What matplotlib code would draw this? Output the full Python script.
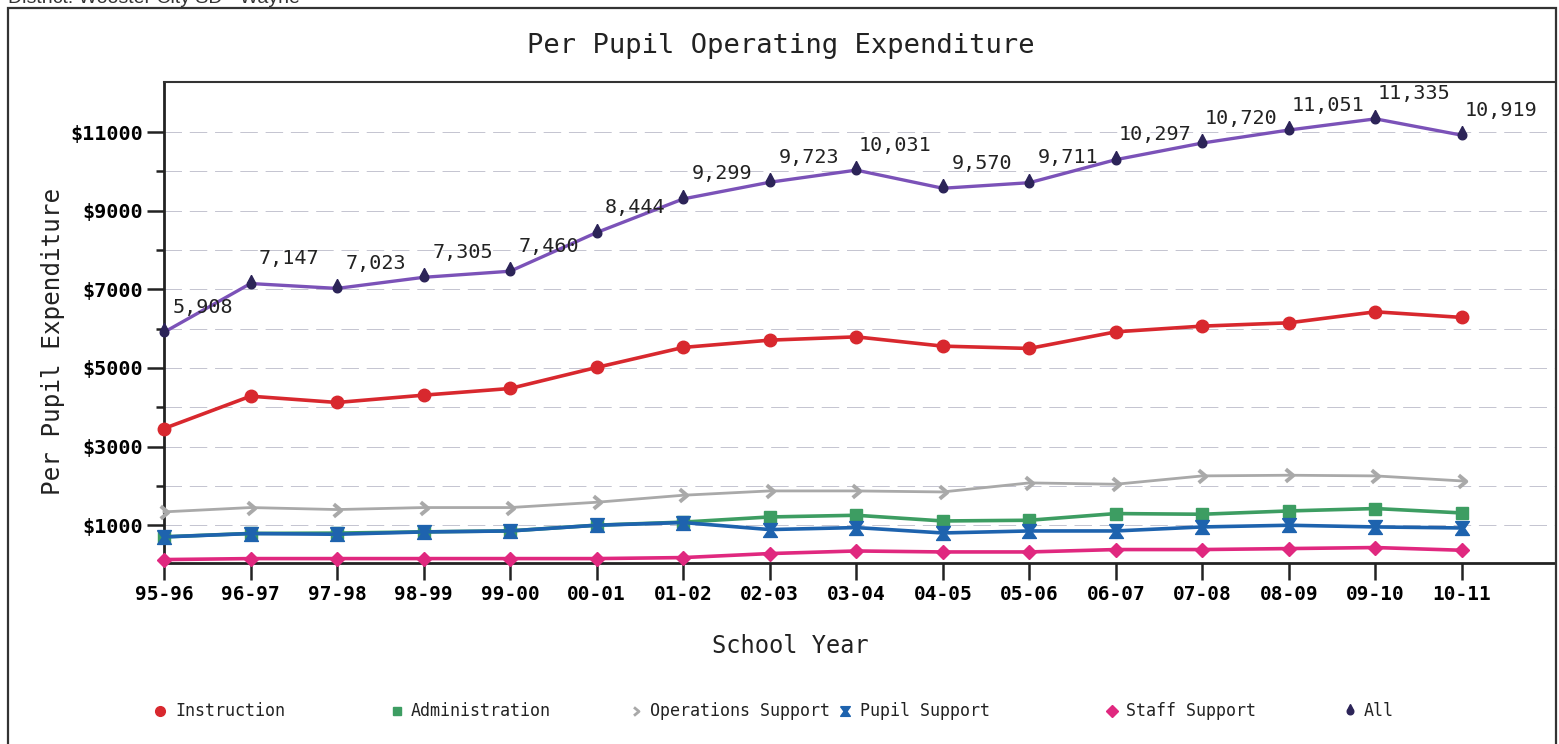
import matplotlib
matplotlib.use("Agg")
import matplotlib.pyplot as plt
from matplotlib.path import Path
from matplotlib.lines import Line2D
from matplotlib.patches import Rectangle
import numpy as np

years = ["95-96", "96-97", "97-98", "98-99", "99-00", "00-01", "01-02", "02-03",
         "03-04", "04-05", "05-06", "06-07", "07-08", "08-09", "09-10", "10-11"]

instruction = [3460, 4282, 4122, 4308, 4478, 5013, 5522, 5707,
               5791, 5555, 5496, 5919, 6064, 6148, 6428, 6285]
administration = [705, 792, 800, 832, 856, 1002, 1080, 1211,
                  1254, 1109, 1127, 1297, 1280, 1364, 1425, 1313]
operations = [1340, 1450, 1399, 1450, 1450, 1585, 1763, 1873,
              1873, 1847, 2077, 2043, 2255, 2272, 2255, 2127]
pupil = [703, 789, 771, 830, 855, 1000, 1069, 890,
         941, 804, 855, 855, 957, 1000, 957, 931]
staff = [127, 152, 152, 152, 152, 152, 178, 280,
         346, 321, 321, 382, 382, 407, 433, 364]
all_exp = [5908, 7147, 7023, 7305, 7460, 8444, 9299, 9723,
           10031, 9570, 9711, 10297, 10720, 11051, 11335, 10919]

mono = "DejaVu Sans Mono"

# custom marker shapes (teardrop, hourglass "X", chevron)
drop = Path([(0, 2.1)] + [(np.cos(a), np.sin(a)) for a in np.linspace(np.radians(40), np.radians(-220), 30)] + [(0, 2.1)])
hourglass = Path([(-1, 1), (1, 1), (0.3, 0), (1, -1), (-1, -1), (-0.3, 0), (-1, 1)])
chevron = Path([(-0.6, 1), (0.6, 0), (-0.6, -1)], [Path.MOVETO, Path.LINETO, Path.LINETO])

c_instr = "#d8282e"
c_admin = "#3d9d62"
c_ops = "#a9a9a9"
c_pupil = "#1e63ae"
c_staff = "#e0287f"
c_all_line = "#7b52b8"
c_all_mark = "#2c2458"

W, H = 1559, 744
fig = plt.figure(figsize=(W / 100, H / 100), dpi=100)
ax = fig.add_axes([164 / W, 1 - 563 / H, (1555 - 164) / W, (563 - 82) / H])

x = np.arange(len(years))

ax.plot(x, operations, color=c_ops, lw=2.0, marker=chevron, ms=9, mfc="none",
        mec=c_ops, mew=2.8, zorder=3, clip_on=False)
ax.plot(x, administration, color=c_admin, lw=2.6, marker="s", ms=8, zorder=4, clip_on=False)
ax.plot(x, pupil, color=c_pupil, lw=2.6, marker=hourglass, ms=10, zorder=5, clip_on=False)
ax.plot(x, staff, color=c_staff, lw=2.6, marker="D", ms=7, zorder=4, clip_on=False)
ax.plot(x, instruction, color=c_instr, lw=2.6, marker="o", ms=9, zorder=4, clip_on=False)
ax.plot(x, all_exp, color=c_all_line, lw=2.4, marker=drop, ms=13, mfc=c_all_mark,
        mec=c_all_mark, zorder=4, clip_on=False)

for xi, v in zip(x, all_exp):
    ax.annotate(f"{v:,}", (xi, v), xytext=(28, 18), textcoords="offset points",
                ha="center", va="center", fontsize=14.5, family=mono, color="#222222",
                annotation_clip=False, zorder=6)

ax.set_xlim(0, (1555 - 164) / 86.53)
ax.set_ylim(40, 12272)

ax.set_xticks(x)
ax.set_xticklabels(years, fontsize=14, family=mono, fontweight="bold")
ax.set_yticks([1000, 3000, 5000, 7000, 9000, 11000])
ax.set_yticklabels([f"${v}" for v in [1000, 3000, 5000, 7000, 9000, 11000]],
                   fontsize=14.5, family=mono, fontweight="bold")
ax.set_yticks([2000, 4000, 6000, 8000, 10000], minor=True)
ax.tick_params(axis="x", direction="out", length=12, width=1.8, pad=4, color="#222222")
ax.tick_params(axis="y", which="major", direction="out", length=12, width=1.8, pad=3, color="#222222")
ax.tick_params(axis="y", which="minor", direction="out", length=6, width=1.8, color="#222222")

for g in range(1000, 12000, 1000):
    ax.axhline(g, color="#c4c4d0", lw=0.7, ls=(0, (18, 8)), zorder=1)

for s in ["left", "bottom"]:
    ax.spines[s].set_linewidth(2.0)
    ax.spines[s].set_color("#222222")
ax.spines["top"].set_linewidth(1.5)
ax.spines["top"].set_color("#333333")
ax.spines["right"].set_visible(False)

ax.set_xlabel("School Year", fontsize=17, family=mono, color="#222222")
ax.xaxis.set_label_coords((790 - 164) / 1391, -0.148)
ax.set_ylabel("Per Pupil Expenditure", fontsize=17.5, family=mono, color="#222222")
ax.yaxis.set_label_coords(-0.071, 0.46)

fig.text(781 / W, 1 - 46 / H, "Per Pupil Operating Expenditure", ha="center", va="center",
         fontsize=19.5, family=mono, color="#222222")

fig.text(8 / W, 1 - 3 / H, "District: Wooster City SD - Wayne", ha="left", va="baseline",
         fontsize=14, family="Liberation Sans", color="#333333")

fig.add_artist(Rectangle((8 / W, -0.05), (1556 - 8) / W, 1.05 - 8 / H, transform=fig.transFigure,
                         fill=False, ec="#333333", lw=1.6))

# legend, placed by hand like the original
legend_items = [("Instruction", "o", c_instr, 7, 160, 175),
                ("Administration", "s", c_admin, 6, 397, 411),
                ("Operations Support", chevron, c_ops, 6, 636, 650),
                ("Pupil Support", hourglass, c_pupil, 7, 845, 860),
                ("Staff Support", "D", c_staff, 6, 1112, 1126),
                ("All", drop, c_all_mark, 10, 1350, 1364)]
ly = 1 - 711 / H
for label, mk, col, size, mx, tx in legend_items:
    if mk is chevron:
        m = Line2D([mx / W], [ly], transform=fig.transFigure, marker=mk, ms=size,
                   mfc="none", mec=col, mew=2.0, ls="none")
    else:
        m = Line2D([mx / W], [ly], transform=fig.transFigure, marker=mk, ms=size,
                   color=col, ls="none")
    fig.add_artist(m)
    fig.text(tx / W, ly, label, ha="left", va="center", fontsize=12, family=mono, color="#222222")

fig.savefig("out.png", dpi=100)
